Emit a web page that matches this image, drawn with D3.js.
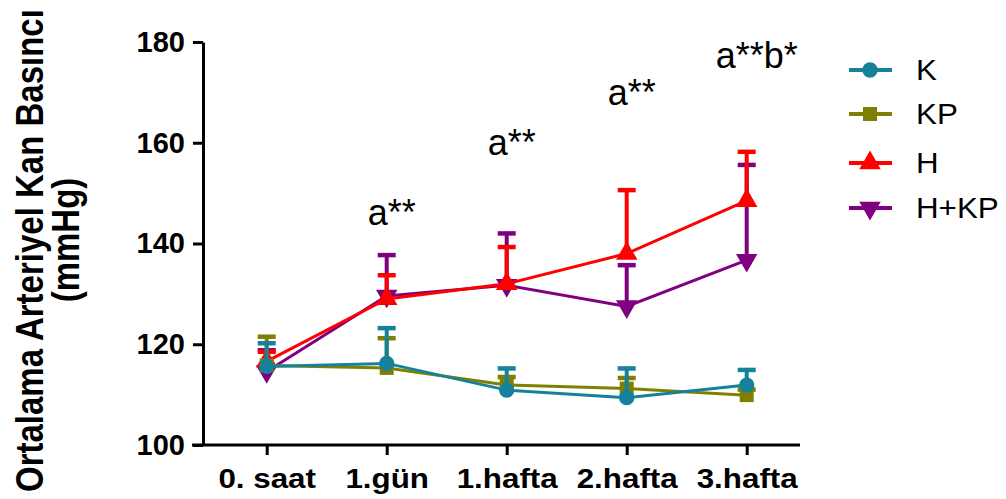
<!DOCTYPE html>
<html>
<head>
<meta charset="utf-8">
<script src="https://cdn.jsdelivr.net/npm/d3@7"></script>
<style>
  body { margin: 0; background: #fff; }
  svg text { font-family: "Liberation Sans", Arial, sans-serif; }
</style>
</head>
<body>
<div id="chart"></div>
<script>
var categories = ["0. saat", "1.gün", "1.hafta", "2.hafta", "3.hafta"];
var yTicks = [100, 120, 140, 160, 180];

var groupNames = ["K", "KP", "H", "H+KP"];
var kMean = [115.6, 116.2, 110.9, 109.4, 111.9];
var kUpper = [120.2, 123.2, 115.2, 115.2, 114.9];
var kpMean = [115.8, 115.3, 111.9, 111.2, 109.9];
var kpUpper = [121.5, 121.2, 113.5, 113.3, 111.0];
var hMean = [116.6, 129.0, 132.0, 138.0, 148.5];
var hUpper = [118.5, 133.7, 139.3, 150.6, 158.2];
var hkpMean = [114.6, 129.6, 131.7, 127.5, 136.7];
var hkpUpper = [118.8, 137.7, 142.0, 135.7, 155.6];

var annotCategories = ["1.gün", "1.hafta", "2.hafta", "3.hafta"];
var annotLabels = ["a**", "a**", "a**", "a**b*"];
var annotLevels = [143.7, 157.6, 167.5, 174.8];

var svgWidth = 1006;
var svgHeight = 499;

var svg = d3.select("#chart")
    .append("svg")
    .attr("width", svgWidth)
    .attr("height", svgHeight);

var x = d3.scalePoint()
    .domain(categories)
    .range([266.7, 746.7]);

var y = d3.scaleLinear()
    .domain([100, 180])
    .range([445, 42]);

var series = [
    { name: "K", color: "#16819a", symbol: d3.symbolCircle, size: 185, rot: 0, mean: kMean, upper: kUpper },
    { name: "KP", color: "#808000", symbol: d3.symbolSquare, size: 195, rot: 0, mean: kpMean, upper: kpUpper },
    { name: "H", color: "#ff0000", symbol: d3.symbolTriangle, size: 200, rot: 0, mean: hMean, upper: hUpper },
    { name: "H+KP", color: "#800080", symbol: d3.symbolTriangle, size: 200, rot: 180, mean: hkpMean, upper: hkpUpper }
];

// axes
var yAxis = svg.append("g")
    .attr("transform", "translate(203,0)")
    .call(d3.axisLeft(y).tickValues(yTicks).tickSize(10).tickSizeOuter(0).tickPadding(8));

yAxis.select(".domain").attr("stroke-width", 3);
yAxis.selectAll(".tick line").attr("stroke-width", 3);
yAxis.selectAll(".tick text")
    .attr("font-size", "29px")
    .attr("font-weight", "bold")
    .attr("fill", "#000");

var xAxis = svg.append("g")
    .attr("transform", "translate(0,445)")
    .call(d3.axisBottom(x).tickSize(10).tickSizeOuter(0).tickPadding(13));

xAxis.select(".domain").remove();
xAxis.append("line")
    .attr("x1", 192).attr("x2", 800)
    .attr("stroke", "#000")
    .attr("stroke-width", 3);
xAxis.selectAll(".tick line").attr("stroke-width", 3);
// the source picture is a little wider than tall, so stretch the labels
xAxis.selectAll(".tick text")
    .attr("font-size", "28px")
    .attr("font-weight", "bold")
    .attr("fill", "#000")
    .attr("transform", "scale(1.12,1)");

// y title
var yTitle = svg.append("g")
    .attr("font-weight", "bold")
    .attr("font-size", "33px")
    .attr("fill", "#000");

yTitle.append("text")
    .attr("transform", "translate(43,492) rotate(-90) scale(1,1.2)")
    .attr("text-anchor", "start")
    .text("Ortalama Arteriyel Kan Basıncı");

yTitle.append("text")
    .attr("transform", "translate(79,240) rotate(-90) scale(1,1.2)")
    .attr("text-anchor", "middle")
    .text("(mmHg)");

// series, drawn last-first so K sits on top
var line = d3.line()
    .x((d, i) => x(categories[i]))
    .y(d => y(d));

series.slice().reverse().forEach(function(s) {
    var g = svg.append("g").attr("class", "series");

    g.append("path")
        .datum(s.mean)
        .attr("d", line)
        .attr("fill", "none")
        .attr("stroke", s.color)
        .attr("stroke-width", 3);

    g.selectAll(".err")
        .data(s.mean)
        .enter()
        .append("line")
        .attr("x1", (d, i) => x(categories[i]))
        .attr("x2", (d, i) => x(categories[i]))
        .attr("y1", d => y(d))
        .attr("y2", (d, i) => y(s.upper[i]))
        .attr("stroke", s.color)
        .attr("stroke-width", 4);

    g.selectAll(".cap")
        .data(s.upper)
        .enter()
        .append("line")
        .attr("x1", (d, i) => x(categories[i]) - 9)
        .attr("x2", (d, i) => x(categories[i]) + 9)
        .attr("y1", d => y(d))
        .attr("y2", d => y(d))
        .attr("stroke", s.color)
        .attr("stroke-width", 4.5);

    g.selectAll(".pt")
        .data(s.mean)
        .enter()
        .append("path")
        .attr("d", d3.symbol().type(s.symbol).size(s.size))
        .attr("transform", (d, i) => `translate(${x(categories[i])},${y(d)}) rotate(${s.rot})`)
        .attr("fill", s.color);
});

// annotations
svg.selectAll(".annot")
    .data(annotLabels)
    .enter()
    .append("text")
    .attr("class", "annot")
    .attr("x", (d, i) => x(annotCategories[i]) + (i == 3 ? 10 : 5))
    .attr("y", (d, i) => y(annotLevels[i]))
    .attr("text-anchor", "middle")
    .attr("font-size", "36px")
    .attr("fill", "#000")
    .text(d => d);

// legend
var legendY = [70, 114, 163, 208];
var legend = svg.append("g");

series.forEach(function(s, i) {
    var row = legend.append("g")
        .attr("transform", `translate(0,${legendY[i]})`);
    row.append("line")
        .attr("x1", 849).attr("x2", 892)
        .attr("stroke", s.color)
        .attr("stroke-width", 4);
    row.append("path")
        .attr("d", d3.symbol().type(s.symbol).size(s.size))
        .attr("transform", `translate(870,0) rotate(${s.rot})`)
        .attr("fill", s.color);
    row.append("text")
        .attr("transform", "translate(916,10) scale(1.08,1)")
        .attr("font-size", "29px")
        .attr("fill", "#000")
        .text(s.name);
});
</script>
</body>
</html>
